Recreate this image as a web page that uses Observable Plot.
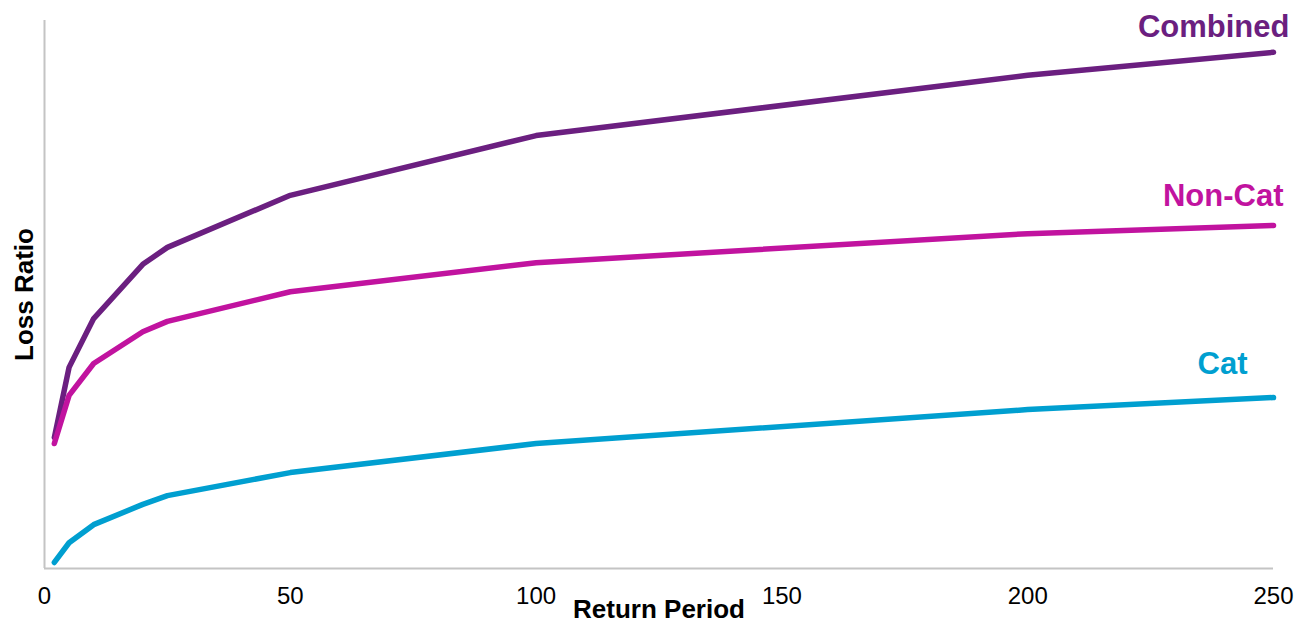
<!DOCTYPE html>
<html>
<head>
<meta charset="utf-8">
<script src="https://cdn.jsdelivr.net/npm/d3@7"></script>
<script src="https://cdn.jsdelivr.net/npm/@observablehq/plot@0.6"></script>
<style>
  html, body { margin: 0; padding: 0; background: #fff; }
  #chart svg { display: block; }
</style>
</head>
<body>
<div id="chart"></div>
<script>
// Return periods (years) at which the loss ratio is evaluated
const returnPeriods = [2, 5, 10, 20, 25, 50, 100, 200, 250];

// Loss ratio (%) by return period for each component
const combined = [23.9, 36.7, 45.6, 55.5, 58.6, 68.1, 79.0, 90.0, 94.2];
const nonCat   = [22.8, 31.6, 37.4, 43.2, 45.1, 50.5, 55.8, 61.1, 62.6];
const cat      = [1.1, 4.7, 8.0, 11.7, 13.3, 17.5, 22.8, 29.0, 31.2];

const seriesNames = ["Combined", "Non-Cat", "Cat"];
const seriesColors = ["#6B1F80", "#C1139F", "#009FD0"];
const xTicks = [0, 50, 100, 150, 200, 250];

const seriesValues = {"Combined": combined, "Non-Cat": nonCat, "Cat": cat};
const rows = seriesNames.flatMap(name =>
  returnPeriods.map((rp, i) => ({series: name, rp, ratio: seriesValues[name][i]}))
);
const rowsOf = name => rows.filter(d => d.series === name);

const font = "'Liberation Sans', Arial, Helvetica, sans-serif";
const axisGray = "#C4C4C4";

// End-of-line series labels, each nudged to sit above its curve
const endLabel = (name, dx, dy) => Plot.text(rowsOf(name), Plot.selectLast({
  x: "rp", y: "ratio", text: "series",
  fill: seriesColors[seriesNames.indexOf(name)],
  fontSize: 31, fontWeight: "bold", textAnchor: "end", lineAnchor: "bottom",
  dx, dy
}));

const chart = Plot.plot({
  width: 1295,
  height: 627,
  marginLeft: 44,
  marginRight: 22,
  marginTop: 20,
  marginBottom: 59,
  style: {fontFamily: font, background: "#fff", color: "#000"},
  x: {domain: [0, 250], axis: null},
  y: {domain: [0, 100], axis: null},
  color: {domain: seriesNames, range: seriesColors},
  marks: [
    Plot.ruleX([0], {stroke: axisGray, strokeWidth: 2}),
    Plot.ruleY([0], {stroke: axisGray, strokeWidth: 2}),
    Plot.axisX({
      ticks: xTicks, tickSize: 0, tickPadding: 18, fontSize: 24,
      tickFormat: d => String(d), label: null, fill: "#000"
    }),
    Plot.text(["Return Period"], {
      frameAnchor: "bottom", lineAnchor: "bottom", dy: 49,
      fontSize: 26, fontWeight: "bold", fill: "#000"
    }),
    Plot.text(["Loss Ratio"], {
      frameAnchor: "left", textAnchor: "middle", rotate: -90, dx: -20,
      fontSize: 26, fontWeight: "bold", fill: "#000"
    }),
    Plot.line(rows, {
      x: "rp", y: "ratio", z: "series", stroke: "series",
      strokeWidth: 5.5, strokeLinecap: "round", strokeLinejoin: "round"
    }),
    endLabel("Combined", 16, -15),
    endLabel("Non-Cat", 10, -19),
    endLabel("Cat", -26, -24)
  ]
});

document.getElementById("chart").append(chart);
</script>
</body>
</html>
